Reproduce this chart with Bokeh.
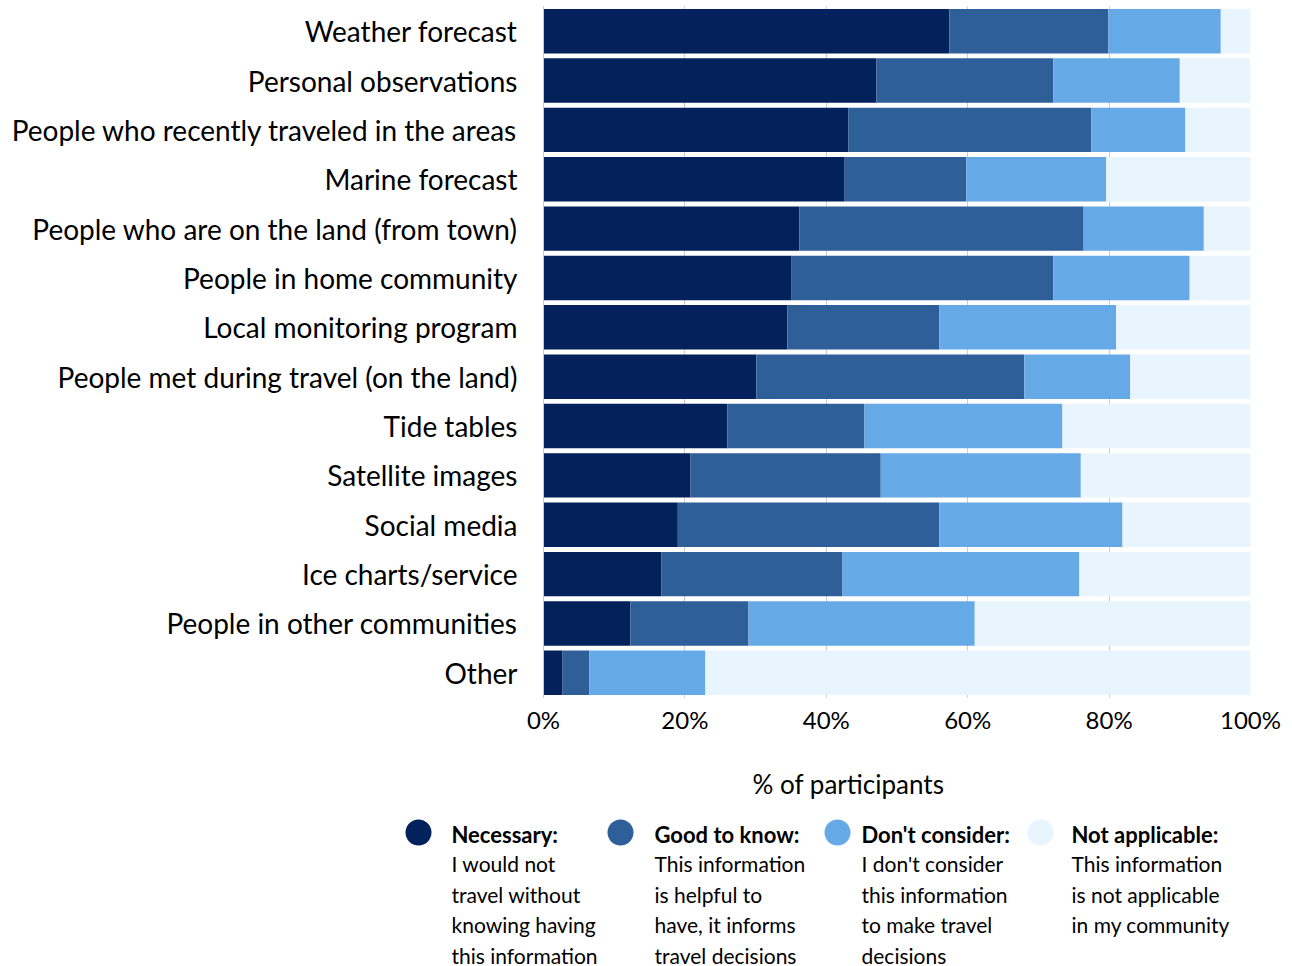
from bokeh.plotting import figure
from bokeh.models import ColumnDataSource, Range1d, FactorRange, FixedTicker
from bokeh.core.properties import value
from bokeh.embed import file_html
from bokeh.resources import INLINE

categories = [
    "Weather forecast", "Personal observations", "People who recently traveled in the areas",
    "Marine forecast", "People who are on the land (from town)", "People in home community",
    "Local monitoring program", "People met during travel (on the land)", "Tide tables",
    "Satellite images", "Social media", "Ice charts/service", "People in other communities", "Other",
]
necessary = [57.4, 47.1, 43.1, 42.6, 36.2, 35.1, 34.5, 30.1, 26.0, 20.8, 19.0, 16.7, 12.3, 2.7]
good_to_know = [22.5, 25.0, 34.4, 17.2, 40.2, 37.0, 21.5, 37.9, 19.4, 26.9, 37.0, 25.6, 16.7, 3.8]
dont_consider = [15.9, 17.9, 13.3, 19.8, 17.0, 19.3, 25.0, 15.0, 28.0, 28.3, 25.9, 33.5, 32.0, 16.4]
not_applicable = [round(100 - a - b - c, 1) for a, b, c in zip(necessary, good_to_know, dont_consider)]

series_names = ["Necessary", "Good to know", "Don't consider", "Not applicable"]
series_colors = ["#03215b", "#2e5f98", "#65aae7", "#e9f5fe"]
series_desc = [
    ["I would not", "travel without", "knowing having", "this information"],
    ["This information", "is helpful to", "have, it informs", "travel decisions"],
    ["I don't consider", "this information", "to make travel", "decisions"],
    ["This information", "is not applicable", "in my community"],
]
x_ticks = [0, 20, 40, 60, 80, 100]
x_tick_labels = ["0%", "20%", "40%", "60%", "80%", "100%"]
x_title = "% of participants"

FONT = "Lato"

series_values = [necessary, good_to_know, dont_consider, not_applicable]
data = {"cat": categories}
lefts = [0.0] * len(categories)
for i, vals in enumerate(series_values):
    rights = [l + v for l, v in zip(lefts, vals)]
    data[f"l{i}"] = lefts
    data[f"r{i}"] = rights
    lefts = rights
src = ColumnDataSource(data)

p = figure(
    width=1292, height=750, output_backend="svg", toolbar_location=None,
    x_range=Range1d(0, 100), y_range=FactorRange(*reversed(categories), range_padding=0),
    min_border_left=543, min_border_right=42, min_border_top=6, min_border_bottom=53,
)
p.outline_line_color = None
for i, col in enumerate(series_colors):
    p.hbar(y="cat", left=f"l{i}", right=f"r{i}", height=0.9, source=src,
           fill_color=col, line_color=None)

p.xaxis.ticker = FixedTicker(ticks=x_ticks)
p.xaxis.major_label_overrides = {t: l for t, l in zip(x_ticks, x_tick_labels)}
p.xaxis.axis_line_color = None
p.xaxis.major_tick_line_color = None
p.xaxis.minor_tick_line_color = None
p.xaxis.major_label_text_font = FONT
p.xaxis.major_label_text_font_size = "24px"
p.xaxis.major_label_text_color = "#000000"
p.xaxis.major_label_standoff = 1

p.yaxis.axis_line_color = "#c8c8c8"
p.yaxis.major_tick_line_color = None
p.yaxis.minor_tick_line_color = None
p.yaxis.major_label_text_font = FONT
p.yaxis.major_label_text_font_size = "28px"
p.yaxis.major_label_text_color = "#000000"
p.yaxis.major_label_standoff = 20

p.xgrid.grid_line_color = "#cccccc"
p.ygrid.grid_line_color = None

# legend / axis title area (separate root so it is not frame-aligned)
leg = figure(
    width=1292, height=216, output_backend="svg", toolbar_location=None,
    x_range=Range1d(0, 1292), y_range=Range1d(216, 0),
    min_border=0,
)
leg.outline_line_color = None
leg.axis.visible = False
leg.grid.visible = False

leg.text(x=[848], y=[33], text=[x_title], text_font=value(FONT), text_font_size="26px",
         text_align="center", text_baseline="middle", text_color="#000000")

circle_x = [418, 620, 837, 1040]
text_x = [451, 654, 861, 1071]
for name, colr, desc, cx, tx in zip(series_names, series_colors, series_desc, circle_x, text_x):
    leg.scatter(x=[cx], y=[82], size=26, fill_color=colr, line_color=None)
    leg.text(x=[tx], y=[84], text=[name + ":"], text_font=value(FONT), text_font_size="22px",
             text_font_style="bold", text_align="left", text_baseline="middle", text_color="#000000")
    leg.text(x=[tx] * len(desc), y=[113 + 30.5 * k for k in range(len(desc))], text=desc,
             text_font=value(FONT), text_font_size="21px",
             text_align="left", text_baseline="middle", text_color="#000000")

open("out.html", "w").write(file_html([p, leg], INLINE))
